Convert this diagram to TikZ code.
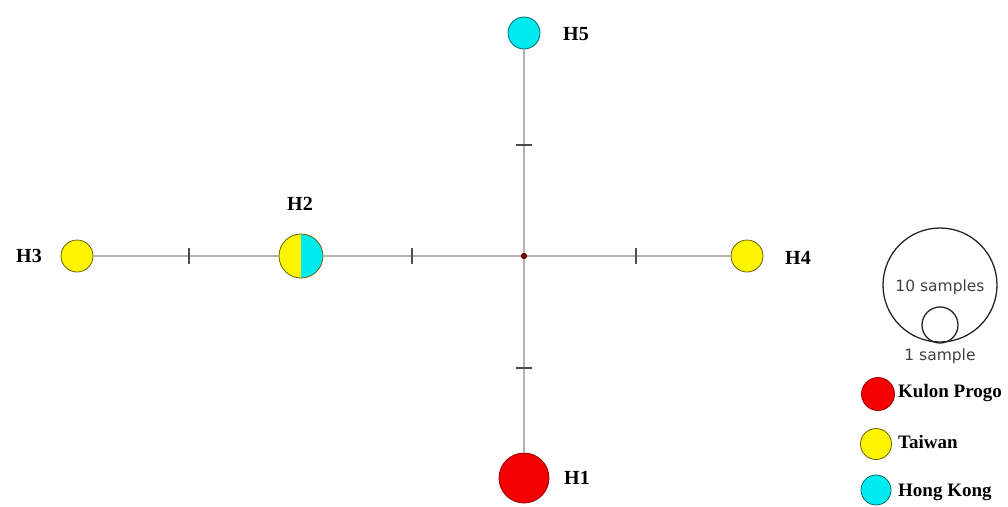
\documentclass[tikz,border=0pt]{standalone}
\usepackage{fontspec}
\setmainfont{Liberation Serif}
\newfontfamily\legendsans{DejaVu Sans}
\definecolor{hkcyan}{RGB}{0,235,240}
\definecolor{twyellow}{RGB}{255,245,0}
\definecolor{kpred}{RGB}{245,0,0}
\begin{document}
\begin{tikzpicture}[x=1pt,y=-1pt,
  link/.style={draw=black!30, line width=1.4pt},
  tick/.style={draw=black!70, line width=1.4pt},
  hap/.style={circle, inner sep=0pt, line width=0.8pt},
  hyellow/.style={hap, fill=twyellow, draw=twyellow!40!black},
  hcyan/.style={hap, fill=hkcyan, draw=hkcyan!45!black},
  hred/.style={hap, fill=kpred, draw=kpred!60!black},
  medvec/.style={circle, fill=red!45!black, inner sep=0pt, minimum size=6pt},
  hlabel/.style={font=\bfseries\fontsize{20}{22}\selectfont, inner sep=0pt},
  legtext/.style={font=\bfseries\fontsize{19}{21}\selectfont, anchor=west, inner sep=0pt},
  sizetext/.style={font=\legendsans\fontsize{15.5}{17}\selectfont, inner sep=0pt, text=black!75}
]
\useasboundingbox (0,0) rectangle (1008,506);

% median vector
\node[medvec] (mv) at (524,256) {};

% haplotypes
\node[hred, minimum size=50pt] (h1) at (524,478) {};
\node[hap, minimum size=44pt, draw=twyellow!40!black,
  path picture={
    \fill[twyellow] (path picture bounding box.south west) rectangle (path picture bounding box.north);
    \fill[hkcyan] (path picture bounding box.south) rectangle (path picture bounding box.north east);
  }] (h2) at (301,256) {};
\node[hyellow, minimum size=32pt] (h3) at (77,256) {};
\node[hyellow, minimum size=32pt] (h4) at (747,256) {};
\node[hcyan, minimum size=32pt] (h5) at (524,33) {};

% connectors
\draw[link] (h3) -- (h2);
\draw[link] (h2) -- (mv);
\draw[link] (mv) -- (h4);
\draw[link] (mv) -- (h1);
\draw[link] (h5) -- (mv);
% median vector on top of the links
\node[medvec] at (mv) {};

% mutation ticks
\coordinate (t1) at (189,256);
\coordinate (t2) at (412,256);
\coordinate (t3) at (636,256);
\coordinate (t4) at (524,145);
\coordinate (t5) at (524,368);
\foreach \t in {t1,t2,t3}
  \draw[tick] ([yshift=-8pt]\t) -- ([yshift=8pt]\t);
\foreach \t in {t4,t5}
  \draw[tick] ([xshift=-8pt]\t) -- ([xshift=8pt]\t);

% haplotype labels
\node[hlabel] (l1) at (577,478) {H1};
\node[hlabel] (l2) at (300,204) {H2};
\node[hlabel] (l3) at (29,256) {H3};
\node[hlabel] (l4) at (798,258) {H4};
\node[hlabel] (l5) at (576,34) {H5};

% size legend
\node[circle, draw=black!85, line width=1.3pt, minimum size=114pt, inner sep=0pt] (big) at (940,285) {};
\node[circle, draw=black!85, line width=1.3pt, minimum size=36pt, inner sep=0pt] (small) at (940,325) {};
\node[sizetext] (tbig) at (940,287) {10 samples};
\node[sizetext] (tsmall) at (940,356) {1 sample};

% colour legend
\node[hred, minimum size=33pt] (k1) at (878,394) {};
\node[legtext] (k1t) at (898,393) {Kulon Progo};
\node[hyellow, minimum size=31pt] (k2) at (876,444) {};
\node[legtext] (k2t) at (898,442) {Taiwan};
\node[hcyan, minimum size=30pt] (k3) at (876,490) {};
\node[legtext] (k3t) at (898,492) {Hong Kong};
\end{tikzpicture}
\end{document}
